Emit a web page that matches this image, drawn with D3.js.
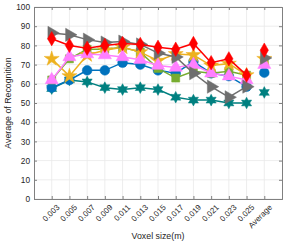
<!DOCTYPE html>
<html>
<head>
<meta charset="utf-8">
<script src="https://cdn.jsdelivr.net/npm/d3@7"></script>
<style>
  body { margin: 0; background: #fff; }
  svg text { font-family: "Liberation Sans", Arial, sans-serif; fill: #262626; }
</style>
</head>
<body>
<svg id="chart" width="286" height="241"></svg>
<script>
const categories = ['0.003', '0.005', '0.007', '0.009', '0.011', '0.013', '0.015', '0.017', '0.019', '0.021', '0.023', '0.025', 'Average'];
const y_ticks = [0, 10, 20, 30, 40, 50, 60, 70, 80, 90, 100];

const teal_values   = [57.5, 62, 61, 58, 57, 58, 57, 53, 51.5, 51.5, 50, 50, 55.5];
const blue_values   = [58, 62, 67, 67, 71, 70, 67, 65.5, 71.5, 65.5, 64, 58.5, 65.8];
const green_values  = [62, 73, 78, 78, 79, 76.5, 68, 63, 66.5, 65.5, 66.5, 64.5, 71.5];
const orange_values = [73, 64, 75, 77.5, 79, 76.5, 72, 75.5, 75, 69.5, 70.5, 64.5, 73];
const pink_values   = [62, 74, 75.5, 75, 74, 72.5, 69.5, 68.5, 70, 65.5, 64, 62, 70];
const gray_values   = [86.5, 85.5, 83, 81.5, 82, 80.5, 76, 74, 65.5, 58.5, 53, 58.5, 73.5];
const red_values    = [83.5, 80, 78.5, 80, 81, 80.5, 79, 78, 81, 71, 73, 64.5, 77.5];

// six pointed star
const hexagram = {
  draw(ctx, size) {
    const r = Math.sqrt(size / 2.2);
    const ri = r * 0.55;
    for (let i = 0; i < 12; i++) {
      const a = -Math.PI / 2 + i * Math.PI / 6;
      const rr = i % 2 ? ri : r;
      if (i === 0) ctx.moveTo(rr * Math.cos(a), rr * Math.sin(a));
      else ctx.lineTo(rr * Math.cos(a), rr * Math.sin(a));
    }
    ctx.closePath();
  }
};

const series = [
  { key: 'teal', color: '#008080', values: teal_values, symbol: hexagram, size: 75, rotate: 0 },
  { key: 'blue', color: '#0072BD', values: blue_values, symbol: d3.symbolCircle, size: 75, rotate: 0 },
  { key: 'green', color: '#77AC30', values: green_values, symbol: d3.symbolSquare, size: 65, rotate: 0 },
  { key: 'orange', color: '#EDB120', values: orange_values, symbol: d3.symbolStar, size: 70, rotate: 0 },
  { key: 'pink', color: '#FF7FFF', values: pink_values, symbol: d3.symbolTriangle, size: 75, rotate: 0 },
  { key: 'gray', color: '#6E6E6E', values: gray_values, symbol: d3.symbolTriangle, size: 75, rotate: 90 },
  { key: 'red', color: '#FF0000', values: red_values, symbol: d3.symbolDiamond, size: 60, rotate: 0 },
];

const margin = { top: 7, right: 4, bottom: 42, left: 34 };
const width = 286, height = 241;
const svg = d3.select('#chart');

const x = d3.scalePoint()
  .domain(categories)
  .range([margin.left, width - margin.right])
  .padding(1);
const y = d3.scaleLinear()
  .domain([0, 100])
  .range([height - margin.bottom, margin.top]);

const x0 = margin.left, x1 = width - margin.right;
const y0 = height - margin.bottom, y1 = margin.top;

// grid
svg.append('g').attr('class', 'grid')
  .selectAll('line.gx').data(categories).join('line')
  .attr('x1', d => x(d)).attr('x2', d => x(d))
  .attr('y1', y0).attr('y2', y1)
  .attr('stroke', '#e8e8e8').attr('stroke-width', 0.8);
svg.select('g.grid')
  .selectAll('line.gy').data(y_ticks).join('line')
  .attr('class', 'gy')
  .attr('x1', x0).attr('x2', x1)
  .attr('y1', d => y(d)).attr('y2', d => y(d))
  .attr('stroke', '#e8e8e8').attr('stroke-width', 0.8);

// axes, ticks inward
const gx = svg.append('g')
  .attr('transform', `translate(0,${y0})`)
  .call(d3.axisBottom(x).tickSize(-3).tickPadding(4));
gx.selectAll('text')
  .attr('text-anchor', 'end')
  .attr('font-size', 8)
  .attr('transform', 'translate(3,4) rotate(-45)')
  .attr('dy', '0.35em');

const gy = svg.append('g')
  .attr('transform', `translate(${x0},0)`)
  .call(d3.axisLeft(y).tickValues(y_ticks).tickSize(-3).tickPadding(4));
gy.selectAll('text').attr('font-size', 8.3);

svg.append('g')
  .attr('transform', `translate(0,${y1})`)
  .call(d3.axisTop(x).tickSize(-3).tickFormat(''));
svg.append('g')
  .attr('transform', `translate(${x1},0)`)
  .call(d3.axisRight(y).tickValues(y_ticks).tickSize(-3).tickFormat(''));

svg.selectAll('.domain').attr('stroke', '#808080');
svg.selectAll('.tick line').attr('stroke', '#808080');

// lines (average kept apart)
const line = d3.line()
  .x((d, i) => x(categories[i]))
  .y(d => y(d));

const groups = svg.selectAll('g.series').data(series).join('g')
  .attr('class', d => 'series ' + d.key);

groups.append('path')
  .attr('d', d => line(d.values.slice(0, categories.length - 1)))
  .attr('fill', 'none')
  .attr('stroke', d => d.color)
  .attr('stroke-width', 1.5);

groups.each(function (s) {
  const sym = d3.symbol().type(s.symbol).size(s.size);
  d3.select(this).selectAll('path.marker')
    .data(s.values.map((v, i) => ({ cat: categories[i], value: v })))
    .join('path')
    .attr('class', 'marker')
    .attr('d', sym)
    .attr('transform', d => `translate(${x(d.cat)},${y(d.value)}) rotate(${s.rotate})`)
    .attr('fill', s.color)
    .attr('stroke', s.color)
    .attr('stroke-width', 0.5);
});

// labels
svg.append('text')
  .attr('x', (x0 + x1) / 2)
  .attr('y', 239)
  .attr('text-anchor', 'middle')
  .attr('font-size', 8.8)
  .text('Voxel size(m)');
svg.append('text')
  .attr('transform', `translate(11,${(y0 + y1) / 2}) rotate(-90)`)
  .attr('text-anchor', 'middle')
  .attr('font-size', 8.8)
  .text('Average of Recognition');
</script>
</body>
</html>
